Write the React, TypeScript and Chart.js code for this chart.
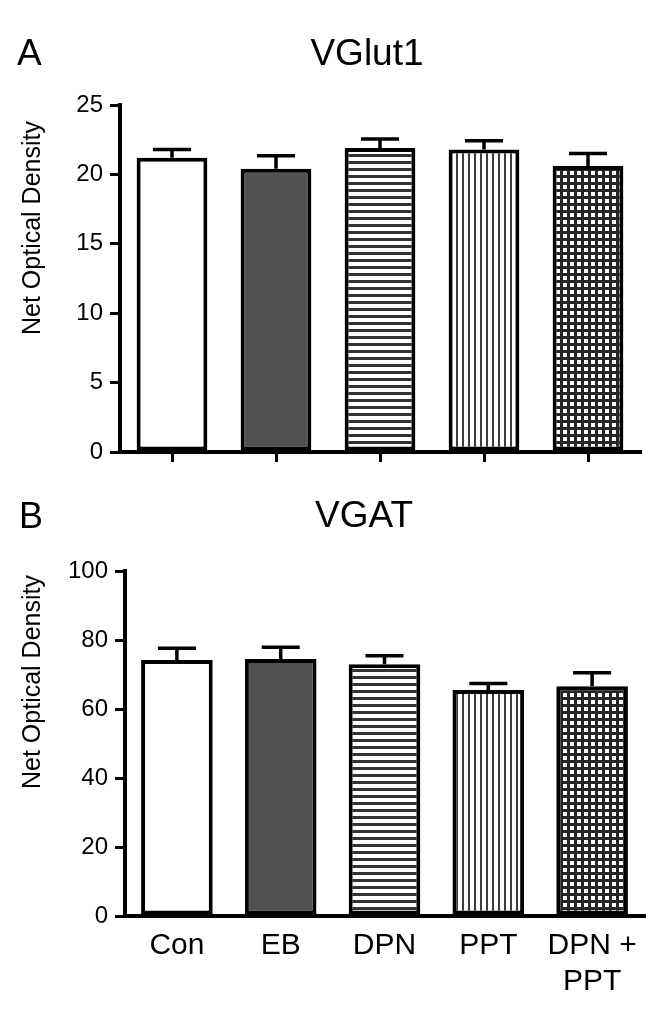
import React, { useEffect, useRef } from 'react';
import { Chart, registerables } from 'chart.js';

Chart.register(...registerables);

// ---------- data ----------
const categories: (string | string[])[] = ['Con', 'EB', 'DPN', 'PPT', ['DPN +', 'PPT']];
const vglutMeans = [21.2, 20.4, 21.9, 21.8, 20.6];
const vglutSem = [0.6, 0.95, 0.65, 0.62, 0.9];
const vgatMeans = [74.2, 74.5, 73.0, 65.5, 66.6];
const vgatSem = [3.4, 3.4, 2.4, 1.9, 3.9];
const vglutTicks = [0, 5, 10, 15, 20, 25];
const vgatTicks = [0, 20, 40, 60, 80, 100];

const FONT = '"Liberation Sans", Arial, Helvetica, sans-serif';

function makePatterns(ctx: CanvasRenderingContext2D) {
  const tile = (w: number, h: number, draw: (g: CanvasRenderingContext2D) => void) => {
    const c = document.createElement('canvas');
    c.width = w;
    c.height = h;
    const g = c.getContext('2d')!;
    draw(g);
    return ctx.createPattern(c, 'repeat')!;
  };
  const horiz = tile(1, 7, (g) => {
    g.fillStyle = '#ffffff';
    g.fillRect(0, 0, 1, 7);
    g.fillStyle = '#333333';
    g.fillRect(0, 0, 1, 3);
  });
  const vert = tile(6, 1, (g) => {
    g.fillStyle = '#ffffff';
    g.fillRect(0, 0, 6, 1);
    g.fillStyle = '#3c3c3c';
    g.fillRect(0, 0, 2, 1);
  });
  const grid = tile(7, 7, (g) => {
    g.fillStyle = '#262626';
    g.fillRect(0, 0, 7, 7);
    g.fillStyle = '#ffffff';
    g.fillRect(3, 3, 4, 4);
  });
  return ['#ffffff', '#515151', horiz, vert, grid];
}

function errorBarPlugin(errs: number[]) {
  return {
    id: 'errorBars',
    afterDatasetsDraw(chart: any) {
      const meta = chart.getDatasetMeta(0);
      const y = chart.scales.y;
      const ctx = chart.ctx as CanvasRenderingContext2D;
      const values = chart.data.datasets[0].data as number[];
      ctx.save();
      ctx.strokeStyle = '#000';
      ctx.lineWidth = 3.5;
      meta.data.forEach((bar: any, i: number) => {
        const base = y.getPixelForValue(values[i]);
        const top = y.getPixelForValue(values[i] + errs[i]);
        ctx.beginPath();
        ctx.moveTo(bar.x, base);
        ctx.lineTo(bar.x, top);
        ctx.moveTo(bar.x - 19, top);
        ctx.lineTo(bar.x + 19, top);
        ctx.stroke();
      });
      ctx.restore();
    },
  };
}

interface TextSpec {
  letter: string;
  letterX: number;
  letterY: number;
  letterSize: number;
  title: string;
  titleX: number;
  titleY: number;
  titleSize: number;
  yLabel: string;
  yLabelX: number;
  yLabelY: number;
  yLabelSize: number;
}

function textPlugin(t: TextSpec) {
  return {
    id: 'panelText',
    afterDraw(chart: any) {
      const ctx = chart.ctx as CanvasRenderingContext2D;
      ctx.save();
      ctx.fillStyle = '#000';
      ctx.textBaseline = 'alphabetic';
      ctx.font = `${t.letterSize}px ${FONT}`;
      ctx.textAlign = 'left';
      ctx.fillText(t.letter, t.letterX, t.letterY);
      ctx.font = `${t.titleSize}px ${FONT}`;
      ctx.textAlign = 'center';
      ctx.fillText(t.title, t.titleX, t.titleY);
      ctx.translate(t.yLabelX, t.yLabelY);
      ctx.rotate(-Math.PI / 2);
      ctx.font = `${t.yLabelSize}px ${FONT}`;
      ctx.textAlign = 'center';
      ctx.fillText(t.yLabel, 0, 0);
      ctx.restore();
    },
  };
}

function buildConfig(opts: {
  ctx: CanvasRenderingContext2D;
  means: number[];
  errs: number[];
  ticks: number[];
  showLabels: boolean;
  padTop: number;
  padRight: number;
  yWidth: number;
  xHeight: number;
  barPct: number;
  text: TextSpec;
}): any {
  const fills = makePatterns(opts.ctx);
  const step = opts.ticks[1] - opts.ticks[0];
  return {
    type: 'bar',
    data: {
      labels: categories,
      datasets: [
        {
          data: opts.means,
          backgroundColor: fills,
          borderColor: '#000',
          borderWidth: 4,
          borderSkipped: false,
          barPercentage: opts.barPct,
          categoryPercentage: 1,
        },
      ],
    },
    options: {
      animation: false,
      responsive: false,
      maintainAspectRatio: false,
      devicePixelRatio: 1,
      layout: { padding: { top: opts.padTop, right: opts.padRight, left: 0, bottom: 0 } },
      plugins: {
        legend: { display: false },
        tooltip: { enabled: false },
        title: { display: false },
      },
      scales: {
        x: {
          grid: {
            display: true,
            drawOnChartArea: false,
            offset: false,
            drawTicks: !opts.showLabels,
            tickLength: 10,
            color: '#000',
            lineWidth: 3,
          },
          border: { display: true, color: '#000', width: 4 },
          ticks: {
            display: opts.showLabels,
            color: '#000',
            font: { family: FONT, size: 30, lineHeight: 1.2 },
            padding: 12,
            maxRotation: 0,
            minRotation: 0,
            autoSkip: false,
          },
          afterFit: (s: any) => {
            s.height = opts.xHeight;
          },
        },
        y: {
          min: opts.ticks[0],
          max: opts.ticks[opts.ticks.length - 1],
          ticks: {
            stepSize: step,
            color: '#000',
            font: { family: FONT, size: 24 },
            padding: 7,
          },
          grid: {
            drawOnChartArea: false,
            drawTicks: true,
            tickLength: 10,
            color: '#000',
            lineWidth: 3,
          },
          border: { display: true, color: '#000', width: 4 },
          afterFit: (s: any) => {
            s.width = opts.yWidth;
          },
        },
      },
    },
    plugins: [errorBarPlugin(opts.errs), textPlugin(opts.text)],
  };
}

export default function App() {
  const refA = useRef<HTMLCanvasElement>(null);
  const refB = useRef<HTMLCanvasElement>(null);

  useEffect(() => {
    const ctxA = refA.current!.getContext('2d')!;
    const ctxB = refB.current!.getContext('2d')!;
    const chartA = new Chart(
      refA.current!,
      buildConfig({
        ctx: ctxA,
        means: vglutMeans,
        errs: vglutSem,
        ticks: vglutTicks,
        showLabels: false,
        padTop: 105,
        padRight: 23,
        yWidth: 120,
        xHeight: 28,
        barPct: 0.68,
        text: {
          letter: 'A',
          letterX: 17,
          letterY: 65,
          letterSize: 37,
          title: 'VGlut1',
          titleX: 367,
          titleY: 65,
          titleSize: 37,
          yLabel: 'Net Optical Density',
          yLabelX: 40,
          yLabelY: 228,
          yLabelSize: 25,
        },
      })
    );
    const chartB = new Chart(
      refB.current!,
      buildConfig({
        ctx: ctxB,
        means: vgatMeans,
        errs: vgatSem,
        ticks: vgatTicks,
        showLabels: true,
        padTop: 91,
        padRight: 19,
        yWidth: 125,
        xHeight: 94,
        barPct: 0.69,
        text: {
          letter: 'B',
          letterX: 19,
          letterY: 48,
          letterSize: 36,
          title: 'VGAT',
          titleX: 364,
          titleY: 47,
          titleSize: 37,
          yLabel: 'Net Optical Density',
          yLabelX: 40,
          yLabelY: 202,
          yLabelSize: 25,
        },
      })
    );
    return () => {
      chartA.destroy();
      chartB.destroy();
    };
  }, []);

  return (
    <div style={{ position: 'absolute', left: 0, top: 0, width: 663, height: 1010, background: '#fff' }}>
      <canvas ref={refA} width={663} height={480} style={{ position: 'absolute', left: 0, top: 0, width: 663, height: 480 }} />
      <canvas ref={refB} width={663} height={530} style={{ position: 'absolute', left: 0, top: 480, width: 663, height: 530 }} />
    </div>
  );
}
